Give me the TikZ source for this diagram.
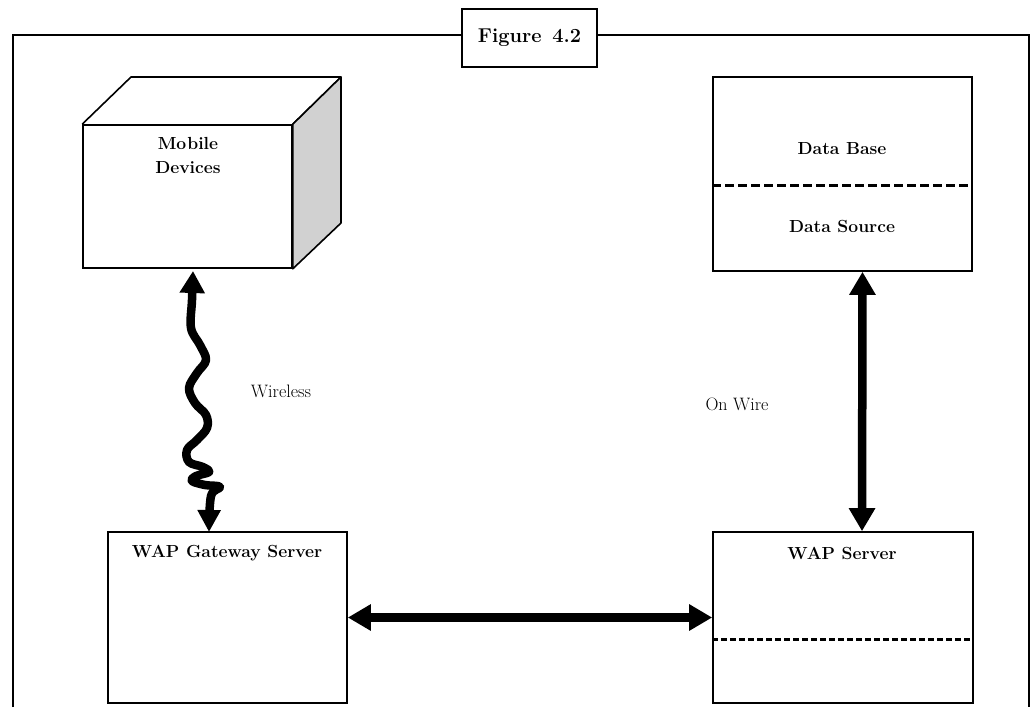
\documentclass[tikz,border=0pt]{standalone}
\usepackage{fontspec}
\usetikzlibrary{arrows.meta,calc}
\begin{document}
\begin{tikzpicture}[x=1pt,y=-1pt,
  box/.style={draw,line width=1.6pt,rectangle,inner sep=0pt},
  lbl/.style={font=\fontsize{17.5}{24}\selectfont\bfseries,align=center,inner sep=0pt},
  plain/.style={font=\fontsize{18}{22}\selectfont\addfontfeature{LetterSpace=4},inner sep=0pt},
  divider/.style={line width=3pt,dash pattern=on 9pt off 4pt},
  bigarrow/.style={line width=8.5pt,{Triangle[length=23pt,width=25pt]}-{Triangle[length=23pt,width=25pt]}},
  wavearrow/.style={line width=8.5pt,line join=round,{Triangle[length=22pt,width=24pt]}-{Triangle[length=22pt,width=22pt]}}
]
\useasboundingbox (0,0) rectangle (1032,707);
% outer frame
\draw[line width=2.6pt] (13,707) -- (13,35) -- (1029,35) -- (1029,707);
\node[box,line width=2.6pt,fill=white,minimum width=135,minimum height=58,font=\fontsize{20}{24}\selectfont\bfseries] (fig) at (529.5,38) {Figure\, 4.2};
% cube (mobile devices)
\node[box,minimum width=209,minimum height=143] (md) at (187.5,196.5) {};
\draw[line width=1.6pt,line join=round] (md.north west) -- (131,77) -- (341,77) -- (md.north east);
\draw[line width=1.6pt,line join=round,fill=gray!36] (md.north east) -- (341,77) -- (341,223) -- (md.south east) -- cycle;
\node[lbl] (mdl) at (188,155.5) {Mo\kern1pt bile\\Devices};
% data base box
\node[box,minimum width=259,minimum height=194] (db) at (842.5,174) {};
\draw[divider] (db.west |- 0,185) -- (db.east |- 0,185);
\node[lbl] (dbl) at (842,149) {Data Base};
\node[lbl] (dsl) at (842,226) {Data Source};
% WAP server
\node[box,minimum width=260,minimum height=171] (ws) at (843,617.5) {};
\draw[line width=3pt,dash pattern=on 6pt off 3pt] (ws.west |- 0,639) -- (ws.east |- 0,639);
\node[lbl] (wsl) at (842,553) {W\kern-1pt AP Server};
% WAP gateway server
\node[box,minimum width=239,minimum height=171] (wg) at (227.5,617.5) {};
\node[lbl] (wgl) at (227,553) {W\kern-1pt AP Gateway Server};
% labels
\node[plain] (wl) at (281,391) {Wireless};
\node[plain] (ow) at (737,404) {On Wire};
% connectors
\coordinate (wtop) at (193,271);
\coordinate (wbot) at (209,532);
\draw[wavearrow] plot[smooth,tension=0.6] coordinates {(wtop) (192,300) (191,328) (200,345) (206,360) (197,373) (189,388) (195,403) (206,415) (207,428) (197,440) (187,450) (189,462) (203,467) (209,472) (196,476) (192,481) (205,485) (220,487) (211,496) (wbot)};
\draw[bigarrow] ([xshift=20]db.south) -- ([xshift=19]ws.north);
\draw[bigarrow] (wg.east) -- (ws.west);
\end{tikzpicture}
\end{document}
